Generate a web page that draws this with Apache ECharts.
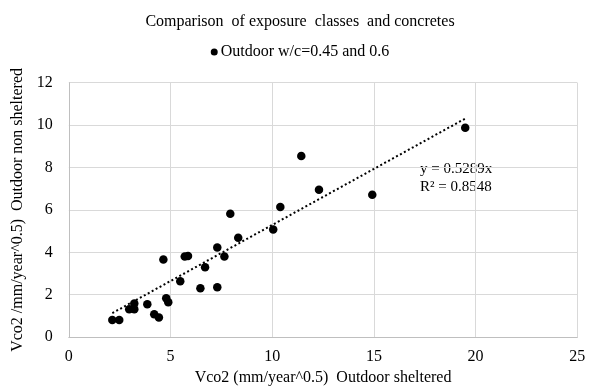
<!DOCTYPE html>
<html>
<head>
<meta charset="utf-8">
<script src="https://cdn.jsdelivr.net/npm/echarts@6/dist/echarts.min.js"></script>
<style>html,body{margin:0;padding:0;background:#fff}#c{width:600px;height:391px}</style>
</head>
<body>
<div id="c"></div>
<script>
var titleText = 'Comparison  of exposure  classes  and concretes';
var seriesName = 'Outdoor w/c=0.45 and 0.6';
var xName = 'Vco2 (mm/year^0.5)  Outdoor sheltered';
var yName = 'Vco2 /mm/year^0.5)  Outdoor non sheltered';
var xValues = [2.14, 2.48, 2.97, 3.22, 3.22, 3.86, 4.20, 4.43, 4.79, 4.89, 4.65, 5.70, 5.86, 5.48, 6.47, 7.30, 6.70, 7.65, 7.30, 8.33, 7.94, 10.05, 10.40, 11.43, 12.30, 14.92, 19.49];
var yValues = [0.81, 0.81, 1.31, 1.31, 1.58, 1.55, 1.08, 0.92, 1.83, 1.64, 3.66, 3.80, 3.83, 2.63, 2.30, 2.35, 3.29, 3.80, 4.23, 4.69, 5.82, 5.07, 6.14, 8.54, 6.95, 6.71, 9.87];
var trendSlope = 0.5289;
var rSquared = 0.8548;
var eqLines = ['y = 0.5289x', 'R\u00b2 = 0.8548'];

var points = xValues.map(function (x, i) { return [x, yValues[i]]; });
var minX = Math.min.apply(null, xValues), maxX = Math.max.apply(null, xValues);
var trend = [[minX, trendSlope * minX], [maxX, trendSlope * maxX]];

var font = '"Liberation Serif", "Times New Roman", serif';
var chart = echarts.init(document.getElementById('c'), null, {renderer: 'canvas'});
chart.setOption({
  animation: false,
  textStyle: {fontFamily: font},
  title: {
    text: titleText, left: 'center', top: 9,
    textStyle: {fontFamily: font, fontSize: 16, fontWeight: 'normal', color: '#000'}
  },
  legend: {
    data: [{name: seriesName, icon: 'circle', itemStyle: {opacity: 1}}],
    left: 'center', top: 39,
    itemWidth: 7, itemHeight: 7, itemGap: 4,
    textStyle: {fontFamily: font, fontSize: 16, color: '#000', padding: [0, 0, 0, -2]}
  },
  grid: {left: 68.8, right: 22.7, top: 82.7, bottom: 52.7},
  xAxis: {
    type: 'value', min: 0, max: 25, interval: 5,
    name: xName, nameLocation: 'middle', nameGap: 32,
    nameTextStyle: {fontFamily: font, fontSize: 16, color: '#000'},
    axisLine: {show: true, lineStyle: {color: '#bfbfbf'}},
    axisTick: {show: false},
    axisLabel: {fontFamily: font, fontSize: 16, color: '#000', margin: 12},
    splitLine: {show: true, lineStyle: {color: '#d9d9d9'}}
  },
  yAxis: {
    type: 'value', min: 0, max: 12, interval: 2,
    name: yName, nameLocation: 'middle', nameGap: 30,
    nameTextStyle: {fontFamily: font, fontSize: 16, color: '#000'},
    axisLine: {show: true, lineStyle: {color: '#bfbfbf'}},
    axisTick: {show: false},
    axisLabel: {fontFamily: font, fontSize: 16, color: '#000', margin: 16},
    splitLine: {show: true, lineStyle: {color: '#d9d9d9'}}
  },
  series: [
    {
      name: seriesName, type: 'scatter', data: points,
      symbol: 'circle', symbolSize: 8.5,
      itemStyle: {color: '#000', opacity: 1}, z: 3
    },
    {
      name: 'trend', type: 'line', data: trend,
      symbol: 'none', silent: true,
      lineStyle: {color: '#000', width: 2, type: [2, 2.5], cap: 'butt'}, z: 2
    }
  ],
  graphic: [
    {type: 'text', left: 420, top: 162, style: {text: eqLines[0], font: '15px ' + font, fill: '#000'}},
    {type: 'text', left: 420, top: 180, style: {text: eqLines[1], font: '15px ' + font, fill: '#000'}}
  ]
});
</script>
</body>
</html>
